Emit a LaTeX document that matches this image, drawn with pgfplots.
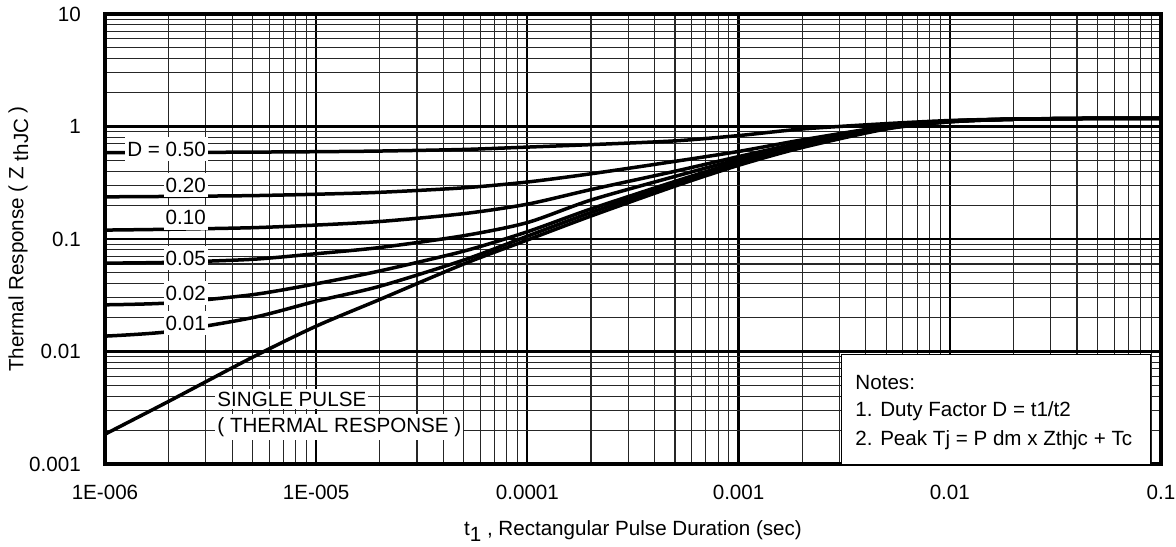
\documentclass[border=0pt]{standalone}
\usepackage{fontspec}
\setmainfont{Liberation Sans}
\usepackage{pgfplots}
\pgfplotsset{compat=1.18}

\begin{document}
\fontsize{10.3}{12}\selectfont
\begin{tikzpicture}
  \useasboundingbox (0,0) rectangle (588pt,273pt);

  \begin{axis}[
      at={(52.5pt,41pt)},
      anchor=south west,
      scale only axis,
      width=528pt,
      height=225pt,
      xmode=log,
      ymode=log,
      xmin=1e-6, xmax=0.1,
      ymin=1e-3, ymax=10,
      clip=false,
      grid=both,
      major grid style={black, line width=1.1pt},
      minor grid style={black!85, line width=0.55pt},
      axis line style={line width=2pt},
      major tick length=0pt,
      minor tick length=0pt,
      xtick={1e-6,1e-5,1e-4,1e-3,1e-2,1e-1},
      xticklabels={1E-006,1E-005,0.0001,0.001,0.01,0.1},
      ytick={1e-3,1e-2,1e-1,1,10},
      yticklabels={0.001,0.01,0.1,1,10},
      /pgf/number format/assume math mode=true,
      xticklabel style={yshift=-7pt},
      yticklabel style={xshift=-8.5pt},
      xlabel={t\raisebox{-0.55ex}{1} , Rectangular Pulse Duration (sec)},
      xlabel style={at={(axis description cs:0.5,-0.148)}, anchor=center},
      ylabel={Thermal Response ( Z \raisebox{-0.45ex}{thJC} )},
      ylabel style={at={(axis description cs:-0.082,0.5)}, anchor=center, rotate=0},
      every axis plot post/.append style={black, solid, line width=1.75pt, smooth, tension=0.45, mark=none},
    ]

    % D = 0.50
    \addplot coordinates {
      (1e-6,0.585) (2e-6,0.587) (5e-6,0.592) (1e-5,0.597) (2e-5,0.605)
      (5e-5,0.625) (1e-4,0.656) (2e-4,0.69) (5e-4,0.745) (1e-3,0.83)
      (2e-3,0.95) (5e-3,1.06) (1e-2,1.13) (2e-2,1.165) (5e-2,1.18) (1e-1,1.18)
    };
    % D = 0.20
    \addplot coordinates {
      (1e-6,0.237) (2e-6,0.239) (5e-6,0.243) (1e-5,0.25) (2e-5,0.26)
      (5e-5,0.285) (1e-4,0.321) (2e-4,0.38) (5e-4,0.49) (1e-3,0.60)
      (2e-3,0.76) (5e-3,1.0) (1e-2,1.12) (2e-2,1.16) (5e-2,1.18) (1e-1,1.18)
    };
    % D = 0.10
    \addplot coordinates {
      (1e-6,0.12) (2e-6,0.122) (5e-6,0.126) (1e-5,0.133) (2e-5,0.143)
      (5e-5,0.168) (1e-4,0.204) (2e-4,0.275) (5e-4,0.40) (1e-3,0.54)
      (2e-3,0.72) (5e-3,0.99) (1e-2,1.115) (2e-2,1.16) (5e-2,1.18) (1e-1,1.18)
    };
    % D = 0.05
    \addplot coordinates {
      (1e-6,0.061) (2e-6,0.062) (5e-6,0.066) (1e-5,0.074) (2e-5,0.084)
      (5e-5,0.107) (1e-4,0.14) (2e-4,0.222) (5e-4,0.36) (1e-3,0.51)
      (2e-3,0.70) (5e-3,0.98) (1e-2,1.11) (2e-2,1.16) (5e-2,1.18) (1e-1,1.18)
    };
    % D = 0.02
    \addplot coordinates {
      (1e-6,0.026) (2e-6,0.027) (5e-6,0.032) (1e-5,0.040) (2e-5,0.052)
      (5e-5,0.078) (1e-4,0.116) (2e-4,0.185) (5e-4,0.325) (1e-3,0.485)
      (2e-3,0.68) (5e-3,0.97) (1e-2,1.11) (2e-2,1.16) (5e-2,1.18) (1e-1,1.18)
    };
    % D = 0.01
    \addplot coordinates {
      (1e-6,0.0137) (2e-6,0.015) (5e-6,0.020) (1e-5,0.028) (2e-5,0.038)
      (5e-5,0.065) (1e-4,0.106) (2e-4,0.172) (5e-4,0.31) (1e-3,0.47)
      (2e-3,0.665) (5e-3,0.96) (1e-2,1.10) (2e-2,1.16) (5e-2,1.18) (1e-1,1.18)
    };
    % single pulse
    \addplot coordinates {
      (1e-6,0.00184) (2e-6,0.0036) (5e-6,0.0089) (1e-5,0.0168) (2e-5,0.029)
      (5e-5,0.060) (1e-4,0.098) (2e-4,0.16) (5e-4,0.295) (1e-3,0.452)
      (2e-3,0.65) (5e-3,0.95) (1e-2,1.10) (2e-2,1.16) (5e-2,1.18) (1e-1,1.18)
    };

    % curve labels
    \tikzset{lbl/.style={fill=white, inner xsep=1pt, inner ysep=2.5pt}}
    \node[lbl, anchor=east] at (axis cs:3.08e-6,0.631) {D = 0.50};
    \node[lbl, anchor=east] at (axis cs:3.08e-6,0.302) {0.20};
    \node[lbl, anchor=east] at (axis cs:3.08e-6,0.154) {0.10};
    \node[lbl, anchor=east] at (axis cs:3.08e-6,0.0678) {0.05};
    \node[lbl, anchor=east] at (axis cs:3.08e-6,0.0331) {0.02};
    \node[lbl, anchor=east] at (axis cs:3.08e-6,0.0179) {0.01};
    \node[lbl, anchor=west, inner ysep=1.5pt] at (axis cs:3.32e-6,0.00378) {SINGLE PULSE};
    \node[lbl, anchor=west, inner ysep=1.5pt] at (axis cs:3.32e-6,0.00213) {( THERMAL RESPONSE )};

    % notes box
    \draw[fill=white, line width=0.5pt] (axis cs:0.003055,0.00098) rectangle (axis cs:0.0887,0.00931);
    \node[anchor=west, inner sep=0pt] at (axis cs:0.00356,0.00525) {Notes:};
    \node[anchor=west, inner sep=0pt] at (axis cs:0.00356,0.00296) {1. Duty Factor D = t1/t2};
    \node[anchor=west, inner sep=0pt] at (axis cs:0.00356,0.00163) {2. Peak Tj = P dm x Zthjc + Tc};
  \end{axis}

\end{tikzpicture}
\end{document}
